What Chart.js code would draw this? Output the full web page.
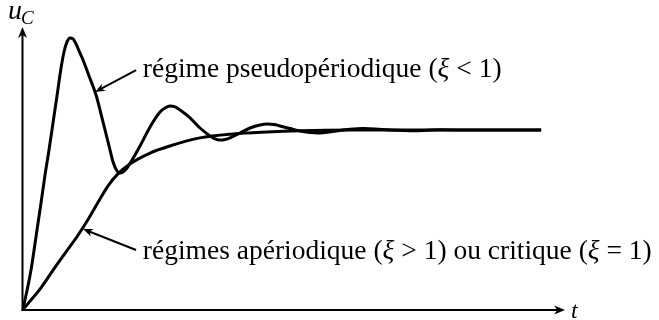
<!DOCTYPE html>
<html>
<head>
<meta charset="utf-8">
<script src="https://cdn.jsdelivr.net/npm/chart.js@4/dist/chart.umd.min.js"></script>
<style>
  body { margin: 0; background: #fff; }
  #box { width: 659px; height: 320px; }
</style>
</head>
<body>
<div id="box"><canvas id="myChart"></canvas></div>
<script>
// time (arbitrary units, curves end at t = 10) and u_C normalised to its final value
var tPseudo = [0, 0.048, 0.164, 0.260, 0.357, 0.434, 0.511, 0.588, 0.665, 0.743, 0.800, 0.858, 0.916, 0.974, 1.032, 1.090, 1.167, 1.283, 1.418, 1.553, 1.669, 1.746, 1.823, 1.881, 1.938, 2.015, 2.112, 2.266, 2.459, 2.652, 2.748, 2.845, 2.941, 3.038, 3.230, 3.423, 3.616, 3.713, 3.809, 3.906, 4.002, 4.195, 4.388, 4.581, 4.716, 4.851, 4.966, 5.159, 5.352, 5.545, 5.680, 5.834, 6.123, 6.316, 6.567, 6.798, 7.088, 7.570, 8.052, 8.630, 10];
var uPseudo = [0, 0.056, 0.222, 0.406, 0.594, 0.750, 0.889, 1.039, 1.189, 1.344, 1.433, 1.489, 1.511, 1.506, 1.478, 1.439, 1.389, 1.300, 1.194, 1.044, 0.911, 0.822, 0.772, 0.761, 0.767, 0.789, 0.833, 0.911, 1.017, 1.100, 1.122, 1.133, 1.128, 1.111, 1.067, 1.011, 0.967, 0.950, 0.944, 0.947, 0.956, 0.983, 1.011, 1.028, 1.033, 1.031, 1.022, 1.008, 0.994, 0.986, 0.983, 0.986, 0.997, 1.004, 1.008, 1.006, 1.000, 0.996, 1.001, 1.000, 1.000];

var tAper = [0, 0.11, 0.37, 0.59, 0.82, 1.05, 1.27, 1.46, 1.65, 1.84, 2.07, 2.46, 2.84, 3.42, 4.06, 4.71, 5.35, 6.32, 10];
var uAper = [0, 0.037, 0.129, 0.222, 0.315, 0.407, 0.506, 0.600, 0.690, 0.756, 0.811, 0.872, 0.911, 0.956, 0.978, 0.989, 0.996, 1.000, 1.000];

var tMax = 10.46, uMax = 1.572;

var labelTop = ["régime pseudopériodique (", "ξ", " < 1)"];
var labelBottom = ["régimes apériodique (", "ξ", " > 1) ou critique (", "ξ", " = 1)"];

function toPoints(xs, ys) {
    return xs.map(function (x, i) { return { x: x, y: ys[i] }; });
}

// pointers from the labels to each curve, in data units
var notes = [
    { runs: labelTop, at: [2.32, 1.294], from: [2.19, 1.333], to: [1.40, 1.211] },
    { runs: labelBottom, at: [2.32, 0.283], from: [2.19, 0.333], to: [1.167, 0.45] }
];

function arrow(ctx, x1, y1, x2, y2, len, half) {
    var a = Math.atan2(y2 - y1, x2 - x1);
    ctx.beginPath();
    ctx.moveTo(x1, y1);
    ctx.lineTo(x2 - Math.cos(a) * len * 0.6, y2 - Math.sin(a) * len * 0.6);
    ctx.stroke();
    ctx.save();
    ctx.translate(x2, y2);
    ctx.rotate(a);
    ctx.beginPath();
    ctx.moveTo(0, 0);
    ctx.lineTo(-len, -half);
    ctx.lineTo(-len * 0.7, 0);
    ctx.lineTo(-len, half);
    ctx.closePath();
    ctx.fill();
    ctx.restore();
}

var serif = '"Liberation Serif", "Times New Roman", serif';

function drawRuns(ctx, x, y, runs, size) {
    runs.forEach(function (txt) {
        ctx.font = (txt === "ξ" ? "italic " : "") + size + "px " + serif;
        ctx.fillText(txt, x, y);
        x += ctx.measureText(txt).width;
    });
}

var axesPlugin = {
    id: 'axesPlugin',
    afterDraw: function (chart) {
        var ctx = chart.ctx;
        var xs = chart.scales.x, ys = chart.scales.y;
        var x0 = xs.getPixelForValue(0), y0 = ys.getPixelForValue(0);
        var xEnd = xs.getPixelForValue(tMax), yEnd = ys.getPixelForValue(uMax);
        ctx.save();
        ctx.strokeStyle = '#000';
        ctx.fillStyle = '#000';
        ctx.lineWidth = 2;
        arrow(ctx, x0, y0 + 1, x0, yEnd, 11, 4.5);
        arrow(ctx, x0 - 1, y0, xEnd, y0, 11, 4.5);

        // axis names
        ctx.textBaseline = 'alphabetic';
        ctx.font = "italic 28px " + serif;
        ctx.fillText("u", 8, 19);
        ctx.font = "italic 19px " + serif;
        ctx.fillText("C", 21, 24);
        ctx.font = "italic 24px " + serif;
        ctx.fillText("t", xEnd + 6, y0 + 8);

        ctx.lineWidth = 2;
        notes.forEach(function (n) {
            arrow(ctx, xs.getPixelForValue(n.from[0]), ys.getPixelForValue(n.from[1]),
                xs.getPixelForValue(n.to[0]), ys.getPixelForValue(n.to[1]), 10, 4);
            drawRuns(ctx, xs.getPixelForValue(n.at[0]), ys.getPixelForValue(n.at[1]), n.runs, 27.5);
        });
        ctx.restore();
    }
};

var ctx = document.getElementById('myChart').getContext('2d');
var myChart = new Chart(ctx, {
    type: 'scatter',
    data: {
        datasets: [
            {
                label: 'pseudopériodique',
                data: toPoints(tPseudo, uPseudo),
                showLine: true,
                borderColor: '#000',
                borderWidth: 3,
                pointRadius: 0,
                cubicInterpolationMode: 'monotone'
            },
            {
                label: 'apériodique',
                data: toPoints(tAper, uAper),
                showLine: true,
                borderColor: '#000',
                borderWidth: 3,
                pointRadius: 0,
                cubicInterpolationMode: 'monotone'
            }
        ]
    },
    options: {
        responsive: true,
        maintainAspectRatio: false,
        animation: false,
        layout: { padding: { left: 22.5, right: 94, top: 27, bottom: 10 } },
        plugins: { legend: { display: false }, tooltip: { enabled: false } },
        scales: {
            x: { type: 'linear', min: 0, max: tMax, display: false },
            y: { type: 'linear', min: 0, max: uMax, display: false }
        }
    },
    plugins: [axesPlugin]
});
</script>
</body>
</html>
